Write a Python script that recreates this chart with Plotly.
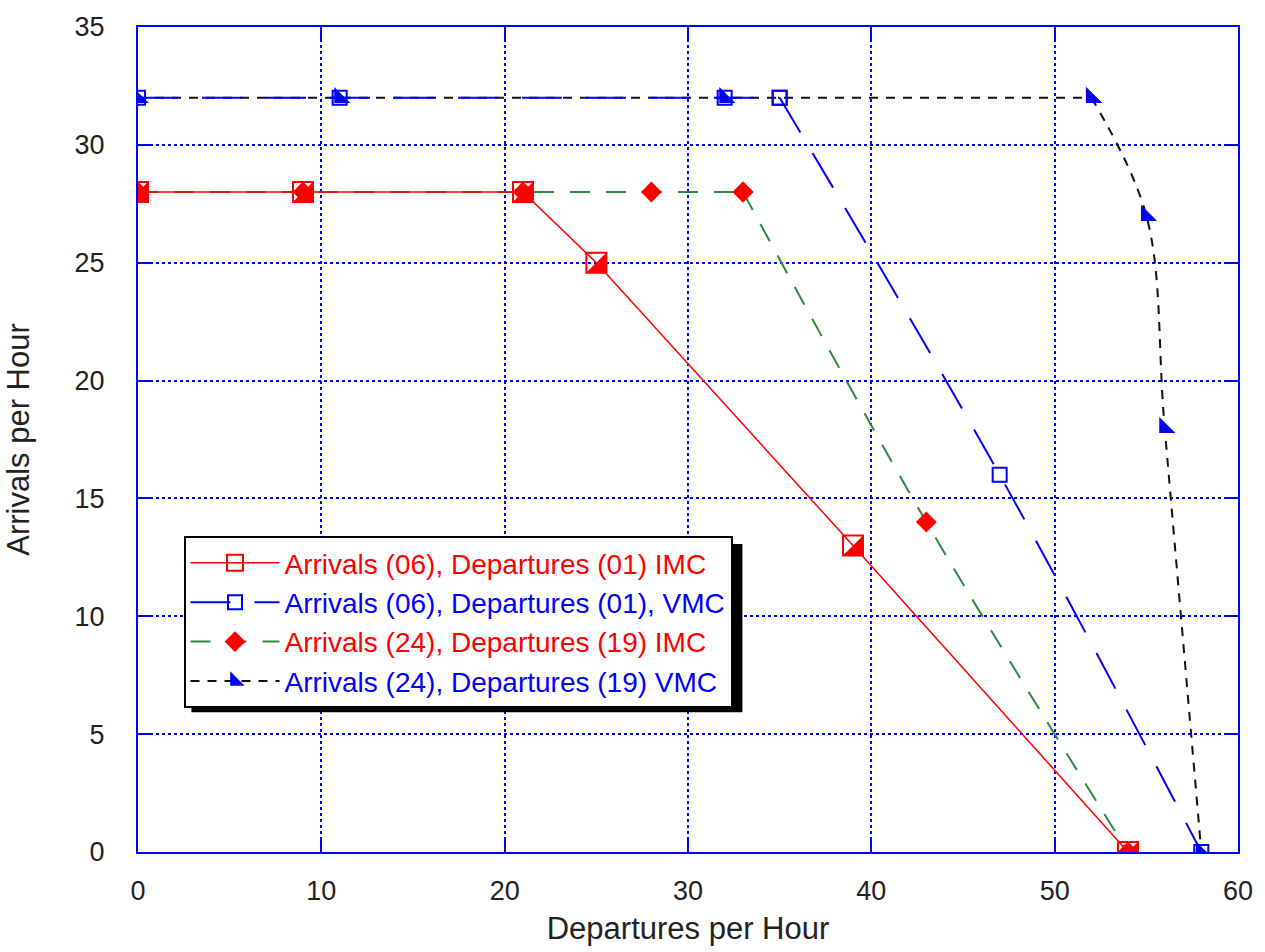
import plotly.graph_objects as go

# ---- data ----
imc06_x = [0, 9, 21, 25, 39, 54]
imc06_y = [28, 28, 28, 25, 13, 0]

vmc06_x = [0, 11, 32, 35, 47, 58]
vmc06_y = [32, 32, 32, 32, 16, 0]

imc24_x = [0, 9, 21, 28, 33, 43, 54]
imc24_y = [28, 28, 28, 28, 28, 14, 0]

vmc24_x = [0, 11, 32, 52, 55, 56, 58]
vmc24_y = [32, 32, 32, 32, 27, 18, 0]

names = [
    "Arrivals (06), Departures (01) IMC",
    "Arrivals (06), Departures (01), VMC",
    "Arrivals (24), Departures (19) IMC",
    "Arrivals (24), Departures (19) VMC",
]

x_ticks = [0, 10, 20, 30, 40, 50, 60]
y_ticks = [0, 5, 10, 15, 20, 25, 30, 35]

RED = "#ff0000"
BLUE = "#0000ff"
GREEN = "#2e8b3e"
BLACK = "#111111"
FONT = "Liberation Sans, Arial, sans-serif"

# plot area geometry (pixels) used for a small marker offset
L, R, T, B = 138, 15, 23, 96
W, H = 1265, 952
PW, PH = W - L - R, H - T - B
XR, YR = 60, 35

fig = go.Figure()


def add_series(xs, ys, knee, line, marker, name, color, group, rank):
    """Flat part drawn straight, descending part drawn smoothed."""
    fig.add_trace(go.Scatter(
        x=xs[:knee + 1], y=ys[:knee + 1], mode="lines+markers",
        line=line, marker=marker,
        name=f"<span style='color:{color}'>{name}</span>",
        legendgroup=group, legendrank=rank))
    fig.add_trace(go.Scatter(
        x=xs[knee:], y=ys[knee:], mode="lines+markers", line_shape="spline",
        line=line, marker=marker, showlegend=False, legendgroup=group,
        hoverinfo="skip"))


# Series 4 (black dashed, blue triangles)
add_series(vmc24_x, vmc24_y, 3,
           dict(color=BLACK, width=2, dash="9px,8px"),
           dict(symbol="triangle-sw", size=18, color=BLUE, line=dict(width=0)),
           names[3], BLUE, "d", 4)

# Series 2 (blue long dash, open squares)
add_series(vmc06_x, vmc06_y, 3,
           dict(color=BLUE, width=2, dash="40px,24px"),
           dict(symbol="square-open", size=14, color=BLUE, line=dict(width=2, color=BLUE)),
           names[1], BLUE, "b", 2)

# Series 3 (green dashed, red diamonds)
add_series(imc24_x, imc24_y, 4,
           dict(color=GREEN, width=2, dash="20px,16px"),
           dict(symbol="diamond", size=16, color=RED, line=dict(width=0)),
           names[2], RED, "c", 3)

# Series 1 (red solid, half-filled squares)
fig.add_trace(go.Scatter(
    x=imc06_x, y=imc06_y, mode="lines+markers",
    line=dict(color=RED, width=1.5),
    marker=dict(symbol="square-open", size=20, color=RED, line=dict(width=2, color=RED)),
    name=f"<span style='color:{RED}'>{names[0]}</span>",
    legendrank=1, legendgroup="a"))
# filled lower-right half of each square (triangle nudged into the corner)
dx = 3.3 * XR / PW
dy = 3.3 * YR / PH
fig.add_trace(go.Scatter(
    x=[v + dx for v in imc06_x], y=[v - dy for v in imc06_y], mode="markers",
    marker=dict(symbol="triangle-se", size=22, color=RED, line=dict(width=0)),
    showlegend=False, hoverinfo="skip", legendgroup="a"))

axis_common = dict(
    showline=True, linecolor=BLUE, linewidth=2, mirror="ticks",
    showgrid=True, gridcolor=BLUE, gridwidth=1.5, griddash="dot",
    ticks="inside", ticklen=14, tickcolor=BLUE, tickwidth=2,
    zeroline=False, ticklabeloverflow="allow",
    tickfont=dict(family=FONT, size=27, color="#222222"),
)

fig.update_layout(
    width=W, height=H,
    margin=dict(l=L, r=R, t=T, b=B),
    paper_bgcolor="white", plot_bgcolor="white",
    font=dict(family=FONT, color="#222222"),
    xaxis=dict(range=[0, XR], tickvals=x_ticks, ticklabelstandoff=14,
               title=dict(text="Departures per Hour", font=dict(family=FONT, size=31), standoff=12),
               **axis_common),
    yaxis=dict(range=[0, YR], tickvals=y_ticks, ticklabelstandoff=26,
               title=dict(text="Arrivals per Hour", font=dict(family=FONT, size=31), standoff=36),
               **axis_common),
    showlegend=True,
    legend=dict(
        x=(184 - L) / PW, y=(H - B - 537) / PH, xanchor="left", yanchor="top",
        bgcolor="white", bordercolor="black", borderwidth=2,
        font=dict(family=FONT, size=28),
        itemwidth=89, tracegroupgap=0, traceorder="grouped",
    ),
)

# legend drop shadow
fig.add_shape(type="rect", xref="paper", yref="paper",
              x0=(192 - L) / PW, x1=(749 - L) / PW,
              y0=(H - B - 715) / PH, y1=(H - B - 545) / PH,
              fillcolor="black", line=dict(width=0), layer="above")

fig.write_html(
    "out.html",
    config={"displayModeBar": False},
    post_script="document.body.style.margin='0';document.body.style.overflow='hidden';",
)
